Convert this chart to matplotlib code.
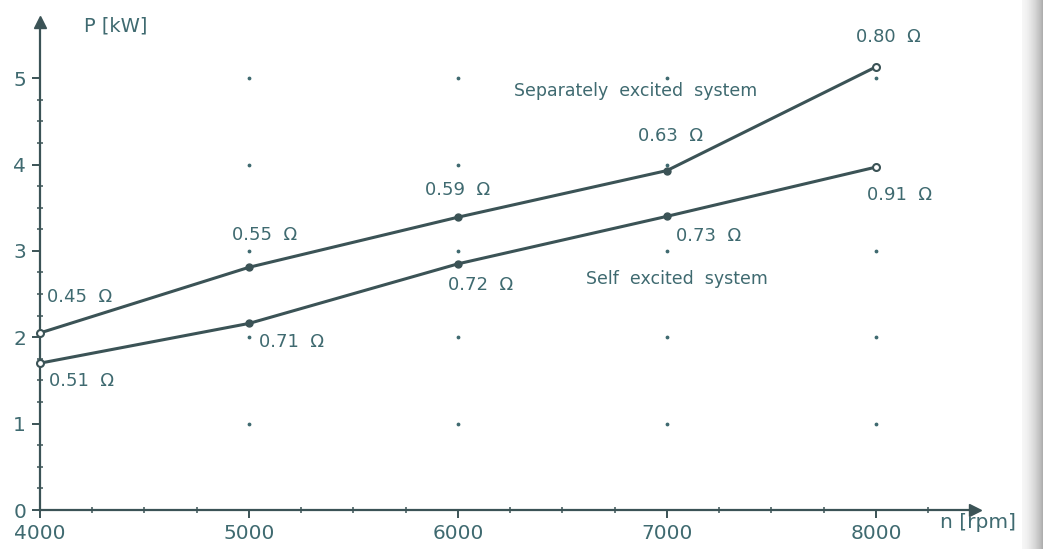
import matplotlib
matplotlib.use("Agg")
import matplotlib.pyplot as plt
import numpy as np

# data
speed = [4000, 5000, 6000, 7000, 8000]
p_sep = [2.05, 2.81, 3.39, 3.93, 5.13]
p_self = [1.70, 2.16, 2.85, 3.40, 3.97]
r_sep = ["0.45", "0.55", "0.59", "0.63", "0.80"]
r_self = ["0.51", "0.71", "0.72", "0.73", "0.91"]
# label offsets in pixels (dx, dy) from each point
off_sep = [(40, 36), (16, 32), (0, 27), (4, 35), (12, 30)]
off_self = [(42, -18), (43, -19), (23, -21), (42, -20), (24, -28)]

line_c = "#3b5356"
text_c = "#3f6a70"

fig = plt.figure(figsize=(10.43, 5.49), dpi=100)
ax = fig.add_axes([40 / 1043, 39 / 549, 935 / 1043, 488 / 549])
ax.set_xlim(4000, 8474)
ax.set_ylim(0, 5.65)

for s in ["top", "right"]:
    ax.spines[s].set_visible(False)
for s in ["left", "bottom"]:
    ax.spines[s].set_color(line_c)
    ax.spines[s].set_linewidth(1.6)

# axis arrows
ax.plot(1, 0, ">", color=line_c, ms=9, transform=ax.transAxes, clip_on=False)
ax.plot(0, 1, "^", color=line_c, ms=9, transform=ax.transAxes, clip_on=False)

ax.set_xticks(speed)
ax.set_xticks(np.arange(4000, 8251, 250), minor=True)
ax.set_yticks(range(6))
ax.set_yticks(np.arange(0, 5.01, 0.25), minor=True)
ax.tick_params(which="major", direction="out", length=6, width=1.4, color=line_c,
               labelsize=14.5, labelcolor=text_c, pad=4)
ax.tick_params(which="minor", direction="inout", length=4, width=1.1, color=line_c)

# dotted grid points
gx, gy = np.meshgrid(speed[1:], range(1, 6))
ax.scatter(gx.ravel(), gy.ravel(), s=3, color=text_c, zorder=1)

for p, r, off in [(p_sep, r_sep, off_sep), (p_self, r_self, off_self)]:
    ax.plot(speed, p, "-", color=line_c, lw=2.2, zorder=3)
    ax.plot(speed[1:-1], p[1:-1], "o", color=line_c, ms=5, zorder=4)
    ax.plot([speed[0], speed[-1]], [p[0], p[-1]], "o", color=line_c, mfc="white",
            mew=1.5, ms=5, zorder=4, clip_on=False)
    for x, y, t, (dx, dy) in zip(speed, p, r, off):
        ax.annotate(t + "  \u03a9", (x, y), xytext=(dx, dy), textcoords="offset pixels",
                    ha="center", va="center", fontsize=13, color=text_c)

ax.text(6850, 4.85, "Separately  excited  system", ha="center", va="center",
        fontsize=12.5, color=text_c)
ax.text(7050, 2.68, "Self  excited  system", ha="center", va="center",
        fontsize=12.5, color=text_c)
fig.text(84 / 1043, 1 - 26 / 549, "P [kW]", ha="left", va="center",
         fontsize=14, color=text_c)

# grey scan shadow on the right edge
sh = fig.add_axes([1022 / 1043, 0, 21 / 1043, 1])
grad = np.linspace(0, 1, 50) ** 1.3
sh.imshow(grad[None, :], aspect="auto", cmap="Greys", vmin=-0.2, vmax=2.6)
sh.axis("off")

fig.text(978 / 1043, 1 - 522 / 549, "n [rpm]", ha="center", va="center",
         fontsize=14.5, color=text_c, zorder=5)

fig.savefig("out.png", dpi=100)
